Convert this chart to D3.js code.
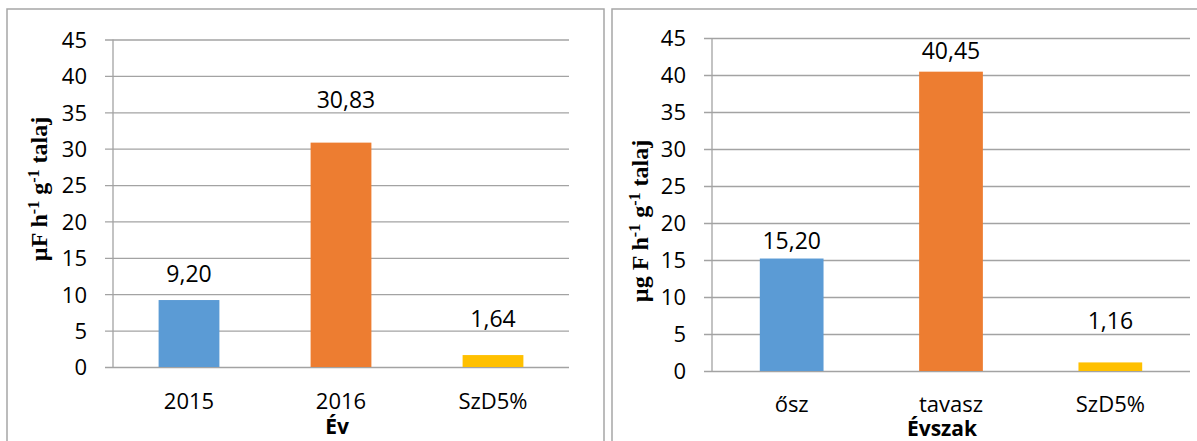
<!DOCTYPE html>
<html>
<head>
<meta charset="utf-8">
<script src="https://cdn.jsdelivr.net/npm/d3@7"></script>
<style>
  html, body { margin: 0; padding: 0; background: #fff; }
  svg { display: block; }
</style>
</head>
<body>
<svg id="chart" width="1197" height="441"></svg>
<script>
// Data
const yearCategories = ["2015", "2016", "SzD5%"];
const yearValues = [9.20, 30.83, 1.64];
const seasonCategories = ["ősz", "tavasz", "SzD5%"];
const seasonValues = [15.20, 40.45, 1.16];
const yTicks = [0, 5, 10, 15, 20, 25, 30, 35, 40, 45];
const barColors = ["#5B9BD5", "#ED7D31", "#FFC000"];

const huLocale = d3.formatLocale({ decimal: ",", thousands: " ", grouping: [3], currency: ["", " Ft"] });
const fmt = huLocale.format(".2f");

const svg = d3.select("#chart");
const sansFont = "'Open Sans', 'Noto Sans', sans-serif";
const serifFont = "'Liberation Serif', 'DejaVu Serif', serif";
const gridColor = "#a3a3a3";

function drawPanel(opt) {
  const g = svg.append("g");

  // panel frame
  g.append("rect")
    .attr("x", opt.frame[0]).attr("y", opt.frame[1])
    .attr("width", opt.frame[2]).attr("height", opt.frame[3])
    .attr("fill", "#fff").attr("stroke", "#a6a6a6").attr("stroke-width", 1.5);

  const x = d3.scaleBand().domain(opt.categories)
    .range([opt.left, opt.right]).paddingInner(0.6).paddingOuter(0.3);
  const y = d3.scaleLinear().domain([0, 45]).range([opt.bottom, opt.top]);

  // y axis with gridlines
  const yAxis = d3.axisLeft(y).tickValues(yTicks).tickSize(-(opt.right - opt.left)).tickFormat(d3.format("d"));
  const ya = g.append("g").attr("transform", `translate(${opt.left},0)`).call(yAxis);
  ya.select(".domain").remove();
  ya.selectAll(".tick line").attr("stroke", gridColor).attr("stroke-width", 1.3).attr("x1", -8);
  ya.selectAll(".tick text").attr("font-family", sansFont).attr("font-size", 22).attr("fill", "#000")
    .attr("x", -26).attr("dy", "0.36em");

  // vertical axis line
  g.append("line").attr("x1", opt.left).attr("x2", opt.left)
    .attr("y1", y(45)).attr("y2", y(0))
    .attr("stroke", gridColor).attr("stroke-width", 1.3);

  // bars
  g.selectAll("rect.bar").data(opt.values).join("rect")
    .attr("class", "bar")
    .attr("x", (d, i) => x(opt.categories[i]))
    .attr("width", x.bandwidth())
    .attr("y", d => y(d))
    .attr("height", d => y(0) - y(d))
    .attr("fill", (d, i) => barColors[i]);

  // value labels (hand-placed above each bar)
  g.selectAll("text.val").data(opt.values).join("text")
    .attr("class", "val")
    .attr("x", (d, i) => x(opt.categories[i]) + x.bandwidth() / 2 + opt.labelShift[i])
    .attr("y", (d, i) => y(d) - opt.labelLift[i])
    .attr("text-anchor", "middle")
    .attr("font-family", sansFont).attr("font-size", 23).attr("fill", "#000")
    .text(d => fmt(d));

  // category labels
  const xAxis = d3.axisBottom(x).tickSize(0).tickPadding(0);
  const xa = g.append("g").attr("transform", `translate(0,${opt.catY})`).call(xAxis);
  xa.select(".domain").remove();
  xa.selectAll(".tick text").attr("font-family", sansFont).attr("font-size", 22).attr("fill", "#000")
    .attr("dy", 0).attr("y", 0);

  // x axis title
  g.append("text")
    .attr("x", (opt.left + opt.right) / 2 + opt.xTitleShift).attr("y", opt.xTitleY)
    .attr("text-anchor", "middle")
    .attr("font-family", sansFont).attr("font-size", 21).attr("font-weight", "bold")
    .text(opt.xTitle);

  // y axis title with superscripts
  const t = g.append("text")
    .attr("transform", `translate(${opt.yTitleX},${opt.yTitleY}) rotate(-90)`)
    .attr("text-anchor", "middle")
    .attr("font-family", serifFont).attr("font-size", 24).attr("font-weight", "bold");
  opt.yTitle.forEach(part => {
    const ts = t.append("tspan").text(part.text);
    if (part.sup) ts.attr("baseline-shift", "super").attr("font-size", 16);
  });
}

drawPanel({
  frame: [7, 9, 597, 450],
  categories: yearCategories, values: yearValues,
  left: 113, right: 569, top: 39.5, bottom: 367,
  labelLift: [18, 35, 28], labelShift: [0, 5, 0],
  catY: 409, xTitle: "Év", xTitleY: 434, xTitleShift: -4,
  yTitleX: 47, yTitleY: 189,
  yTitle: [{ text: "µF h" }, { text: "-1", sup: true }, { text: " g" }, { text: "-1", sup: true }, { text: " talaj" }]
});

drawPanel({
  frame: [612, 9, 600, 450],
  categories: seasonCategories, values: seasonValues,
  left: 712, right: 1190, top: 38, bottom: 371,
  labelLift: [10, 13, 33], labelShift: [0, 0, 0],
  catY: 412, xTitle: "Évszak", xTitleY: 436, xTitleShift: -9,
  yTitleX: 648, yTitleY: 221,
  yTitle: [{ text: "µg F h" }, { text: "-1", sup: true }, { text: " g" }, { text: "-1", sup: true }, { text: " talaj" }]
});
</script>
</body>
</html>
